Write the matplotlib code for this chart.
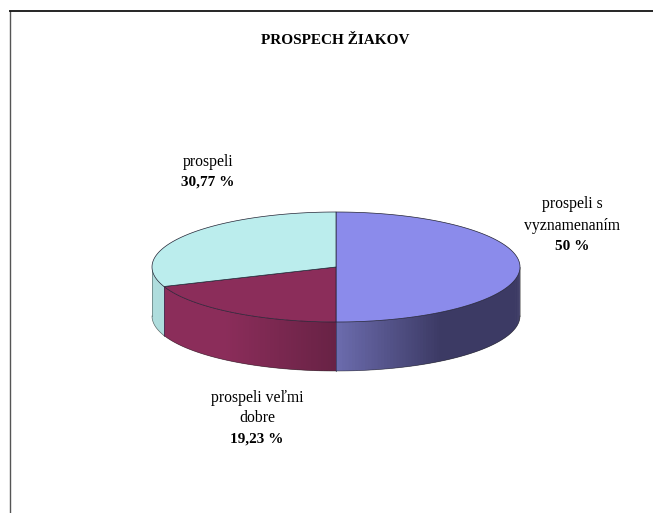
import numpy as np
import matplotlib
matplotlib.use("Agg")
import matplotlib.pyplot as plt
from matplotlib.patches import Polygon
from matplotlib.colors import to_rgb

title = "PROSPECH ŽIAKOV"
categories = ["prospeli s\nvyznamenaním", "prospeli veľmi\ndobre", "prospeli"]
values = [50, 19.23, 30.77]
value_labels = ["50 %", "19,23 %", "30,77 %"]
top_colors = ["#8B8BEB", "#8B2D5A", "#BBEDED"]
side_light = ["#6C6CAE", "#8B2D5A", "#A9DCDC"]
side_dark = ["#3C3A64", "#682245", "#A9DCDC"]

W, H = 653, 513
CX, CY, RX, RY, DEPTH = 336, 267, 184, 55, 49
SERIF = ["Liberation Serif", "DejaVu Serif"]

fig = plt.figure(figsize=(W / 100, H / 100), dpi=100)
ax = fig.add_axes([0, 0, 1, 1])
ax.set_xlim(0, W)
ax.set_ylim(H, 0)
ax.axis("off")


def pt(a):
    """Ellipse point for clockwise angle a (radians) from 12 o'clock."""
    return CX + RX * np.sin(a), CY - RY * np.cos(a)


fractions = np.cumsum([0] + values) / sum(values)
angles = fractions * 2 * np.pi

# Frame
ax.plot([9.5, 9.5], [513, 11], color="#555555", lw=1.0, solid_capstyle="butt")
ax.plot([9, 653], [11, 11], color="black", lw=1.2, solid_capstyle="butt")

# Sides: visible front half only, shaded strip by strip
for i in range(len(values)):
    a0, a1 = angles[i], angles[i + 1]
    lo, hi = max(a0, np.pi / 2), min(a1, 3 * np.pi / 2)
    if hi <= lo:
        continue
    edges = np.linspace(lo, hi, 90)
    step = edges[1] - edges[0]
    light = np.array(to_rgb(side_light[i]))
    dark = np.array(to_rgb(side_dark[i]))
    # Painted from one end to the other; each strip overlaps the next so no seams show
    for e0, e1 in zip(edges[:-1], edges[1:]):
        x0, y0 = pt(e0)
        x1, y1 = pt(min(e1 + step, hi))
        xm = (pt(e0)[0] + pt(e1)[0]) / 2
        if i == 0:
            t = np.clip((xm - CX) / 105, 0, 1)
        elif i == 1:
            t = np.clip((xm - 225) / (CX - 225), 0, 1)
        else:
            t = 0
        c = light + (dark - light) * t
        ax.add_patch(Polygon([(x0, y0), (x1, y1), (x1, y1 + DEPTH), (x0, y0 + DEPTH)],
                             closed=True, facecolor=c, edgecolor="none", lw=0, zorder=2))
    # Bottom outline of the side
    t = np.linspace(lo, hi, 90)
    x, y = pt(t)
    ax.plot(x, y + DEPTH, color="#222222", lw=0.5, alpha=0.6, zorder=3)
    # Vertical seams
    for e in (lo, hi):
        if abs(e - np.pi / 2) > 1e-6 and abs(e - 3 * np.pi / 2) > 1e-6:
            x, y = pt(e)
            ax.plot([x, x], [y, y + DEPTH], color="#333355", lw=0.5, alpha=0.6, zorder=3)

# Outer vertical silhouette
for e in (np.pi / 2, 3 * np.pi / 2):
    x, y = pt(e)
    ax.plot([x, x], [y, y + DEPTH], color="#333333", lw=0.5, alpha=0.6, zorder=3)

# Top face wedges
for i in range(len(values)):
    t = np.linspace(angles[i], angles[i + 1], 200)
    x, y = pt(t)
    poly = np.column_stack([np.r_[CX, x], np.r_[CY, y]])
    ax.add_patch(Polygon(poly, closed=True, facecolor=top_colors[i],
                         edgecolor="#222233", lw=0.5, joinstyle="round", zorder=4))

# Labels
ax.text(335, 40, title, ha="center", va="center", fontsize=11, fontweight="bold",
        family=SERIF, color="black")

label_pos = [(572, [204, 226], 247), (257, [398, 418], 439), (208, [162], 182)]
for cat, val, (x, ys, yv) in zip(categories, value_labels, label_pos):
    for line, y in zip(cat.split("\n"), ys):
        ax.text(x, y, line, ha="center", va="center", fontsize=11.3, color="black",
                family=SERIF)
    ax.text(x, yv, val, ha="center", va="center", fontsize=11, fontweight="bold",
            color="black", family=SERIF)

fig.savefig("out.png", dpi=100, facecolor="white")
